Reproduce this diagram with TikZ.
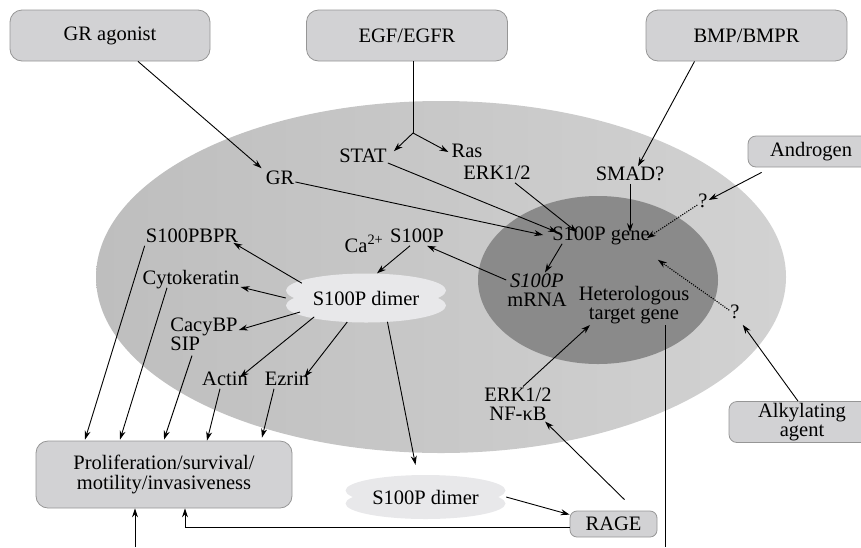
\documentclass[tikz,border=0pt]{standalone}
\usepackage{fontspec}
\setmainfont{Liberation Serif}
\usetikzlibrary{arrows.meta,shapes.geometric}

\definecolor{cellL}{RGB}{190,190,190}
\definecolor{cellR}{RGB}{210,210,210}
\definecolor{nucleus}{RGB}{138,138,138}
\definecolor{boxfill}{RGB}{210,210,212}
\definecolor{boxline}{RGB}{150,150,150}
\definecolor{dimerfill}{RGB}{232,232,234}

\tikzset{
  box/.style={draw=boxline, fill=boxfill, line width=0.8pt, rounded corners=12pt, align=center, inner sep=0pt},
  lbl/.style={inner sep=1pt, text height=0.7em, text depth=0.22em},
  lbl2/.style={inner sep=1pt, align=center},
  blob/.style={ellipse, inner sep=0pt, minimum width=160pt, minimum height=49pt},
  arr/.style={->, line width=0.9pt},
  guess/.style={->, line width=1.1pt, dash pattern=on 1.1pt off 1.3pt},
}

\begin{document}
\begin{tikzpicture}[x=1pt, y=-1pt, >={Stealth[length=9pt,width=6pt]}, font=\fontsize{20.5}{19}\selectfont]
  \useasboundingbox (0,0) rectangle (861,547);

  % cell and nucleus
  \shade[left color=cellL, right color=cellR] (441,277) ellipse [x radius=345pt, y radius=176pt];
  \fill[nucleus] (598,280) ellipse [x radius=120pt, y radius=84pt];

  % S100P dimer clouds (two overlapping ellipses each)
  \foreach \cx/\cy/\h/\r in {366/298/7.5/17, 425.5/497/6.5/15.5} {
    \fill[dimerfill] (\cx,\cy-\h) ellipse [x radius=80pt, y radius=\r pt];
    \fill[dimerfill] (\cx,\cy+\h) ellipse [x radius=80pt, y radius=\r pt];
  }

  % boxes
  \node[box, minimum width=200pt, minimum height=51pt] (agonist) at (110,35.5) {GR agonist};
  \node[box, minimum width=201pt, minimum height=51pt] (egf) at (407,35.5) {EGF/EGFR};
  \node[box, minimum width=201pt, minimum height=51pt] (bmp) at (746.5,35.5) {BMP/BMPR};
  \node[box, minimum width=126pt, minimum height=31pt, rounded corners=8pt] (androgen) at (811,151.5) {Androgen};
  \node[box, minimum width=146pt, minimum height=41pt, rounded corners=8pt,
        font=\fontsize{20.5}{18.5}\selectfont] (alkyl) at (802,422) {Alkylating\\agent};
  \node[box, minimum width=256pt, minimum height=67pt,
        font=\fontsize{20.5}{20}\selectfont] (prolif) at (164,474.5) {Proliferation/survival/\\motility/invasiveness};
  \node[box, minimum width=87pt, minimum height=26pt, rounded corners=7pt] (rage) at (613.5,524) {RAGE};

  % labels inside the cell
  \node[lbl] (gr)    at (280,182) {GR};
  \node[lbl] (stat)  at (363,160) {STAT};
  \node[lbl] (ras)   at (467,155) {Ras};
  \node[lbl] (erkA)  at (497,177) {ERK1/2};
  \node[lbl] (smad)  at (630,178) {SMAD?};
  \node[lbl] (qA)    at (703,205) {?};
  \node[lbl] (gene)  at (601,238) {S100P gene};
  \node[lbl2] (mrna) at (537,290) {\textit{S100P}\\mRNA};
  \node[lbl2] (hetero) at (634,305) {Heterologous\\target gene};
  \node[lbl] (qB)    at (735,316) {?};
  \node[lbl2] (erkB) at (518,404) {ERK1/2\\NF-κB};
  \node[lbl] (sp)    at (417,240) {S100P};
  \node[lbl] (ca)    at (364,250) {Ca\textsuperscript{2+}};
  \node[blob] (dimer) at (366,298) {S100P dimer};
  \node[lbl] (bpr)   at (192,240) {S100PBPR};
  \node[lbl] (cyto)  at (191,282) {Cytokeratin};
  \node[lbl2, align=left] (cacy) at (204,334) {CacyBP\\SIP};
  \node[lbl] (actin) at (225,383) {Actin};
  \node[lbl] (ezrin) at (287,383) {Ezrin};
  \node[blob, minimum width=161pt, minimum height=44pt] (dimerB) at (425.5,497) {S100P dimer};

  % signals from outside
  \draw[arr] ([xshift=28pt]agonist.south) -- ([xshift=-3pt,yshift=8pt]gr.north west);
  \coordinate (fork) at (413,133);
  \draw[line width=0.9pt] ([xshift=6pt]egf.south) -- (fork);
  \draw[arr] (fork) -- ([xshift=6pt,yshift=3pt]stat.north east);
  \draw[arr] (fork) -- ([xshift=-2pt,yshift=3pt]ras.west);
  \draw[arr] ([xshift=-52pt]bmp.south) -- ([xshift=8pt,yshift=6pt]smad.north);
  \draw[arr] ([xshift=14pt,yshift=-5pt]androgen.south west) -- ([yshift=5pt]qA.east);
  \draw[arr] ([xshift=-4pt]alkyl.north) -- ([xshift=2pt,yshift=-3pt]qB.south east);

  % towards the S100P gene
  \draw[arr] ([yshift=-3pt]stat.east) -- ([xshift=6pt]gene.north west);
  \draw[arr] (gr.east) -- ([xshift=-8pt,yshift=3pt]gene.west);
  \draw[arr] ([xshift=18pt]erkA.south) -- ([xshift=-24pt]gene.north);
  \draw[arr] (smad.south) -- (smad.south |- gene.north);
  \draw[guess] (qA.west) -- ([xshift=-4pt,yshift=-6pt]gene.north east);
  \draw[guess] (qB.north west) -- ([xshift=7pt,yshift=-16pt]gene.south east);

  % expression and dimer formation
  \draw[arr] ([xshift=11pt]gene.south west) -- ([xshift=8pt]mrna.north);
  \draw[arr] ([yshift=10pt]mrna.west) -- ([xshift=10pt]sp.south);
  \draw[arr] ([xshift=-7pt]sp.south) -- ([xshift=11pt]dimer.north);

  % intracellular targets
  \draw[arr] (dimer.167) -- ([xshift=-6pt,yshift=3pt]bpr.south east);
  \draw[arr] (dimer.west) -- ([yshift=-5pt]cyto.east);
  \draw[arr] (dimer.192) -- ([yshift=4pt]cacy.east);
  \draw[arr] (dimer.200) -- ([xshift=15pt]actin.north);
  \draw[arr] (dimer.232) -- ([xshift=-6pt]ezrin.north east);
  \draw[arr] (dimer.312) -- ([xshift=-10pt,yshift=10pt]dimerB.north);

  % effects on the phenotype
  \draw[arr] (bpr.south west) -- ([xshift=-79pt,yshift=1pt]prolif.north);
  \draw[arr] ([xshift=-24pt]cyto.south) -- ([xshift=-44pt,yshift=1pt]prolif.north);
  \draw[arr] ([xshift=-12pt,yshift=-4pt]cacy.south) -- ([yshift=1pt]prolif.north);
  \draw[arr] ([xshift=-5pt]actin.south) -- ([xshift=43pt]prolif.north);
  \draw[arr] ([xshift=-13pt]ezrin.south) -- ([xshift=98pt,yshift=3pt]prolif.north);

  % extracellular route via RAGE
  \draw[arr] (dimerB.east) -- ([yshift=-4pt]rage.north west);
  \draw[arr] ([xshift=11pt,yshift=11pt]rage.north) -- ([xshift=27pt]erkB.south);
  \draw[arr] ([xshift=5pt]erkB.north) -- ([xshift=-44pt]hetero.south);
  \draw[arr] ([yshift=-3pt]rage.west) -| ([xshift=21pt]prolif.south);

  % lines leaving the picture
  \coordinate (exitB) at (665,547);
  \coordinate (entry) at (135,547);
  \draw[line width=0.9pt] ([xshift=31pt]hetero.south) -- (exitB);
  \draw[arr] (entry) -- ([xshift=-29pt]prolif.south);

\end{tikzpicture}
\end{document}
